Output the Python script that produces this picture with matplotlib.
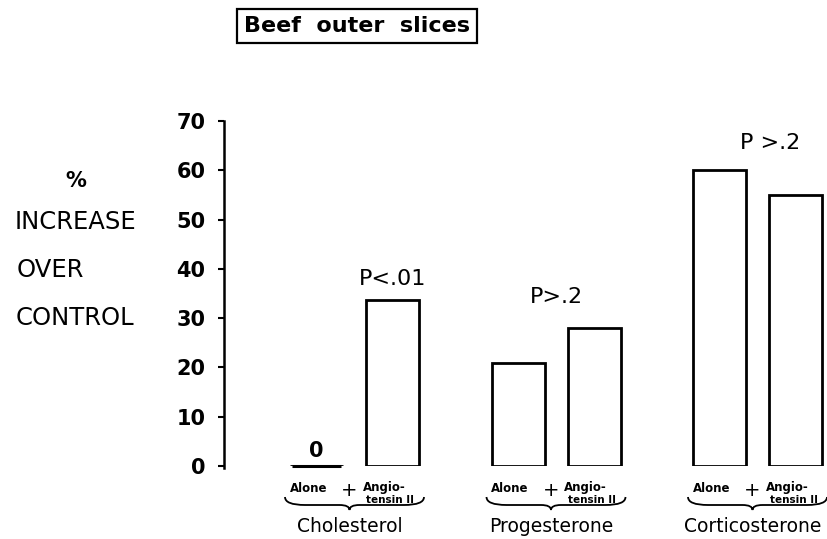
import matplotlib
matplotlib.use("Agg")
import matplotlib.pyplot as plt
from matplotlib.path import Path
from matplotlib.patches import PathPatch
from matplotlib.transforms import blended_transform_factory, IdentityTransform
import numpy as np

groups = ["Cholesterol", "Progesterone", "Corticosterone"]
alone_vals = [0, 21, 60]
angio_vals = [33.7, 28, 55]
p_labels = ["P<.01", "P>.2", "P >.2"]
y_ticks = [0, 10, 20, 30, 40, 50, 60, 70]

W, H = 827, 539
fig = plt.figure(figsize=(W / 100, H / 100), dpi=100)
ax = fig.add_axes([224 / W, (H - 466) / H, 1 - 224 / W, (466 - 121) / H])

group_gap = 2.015
offset = 0.76
bw = 0.53
xa = np.arange(len(groups)) * group_gap
xp = xa + offset

lw = 2.0
ax.bar(xa, alone_vals, width=bw, facecolor="white", edgecolor="black", linewidth=lw)
ax.bar(xp, angio_vals, width=bw, facecolor="white", edgecolor="black", linewidth=lw)
# make zero-height bars visible as a thick baseline segment
for x, v in zip(xa, alone_vals):
    if v == 0:
        ax.hlines(v, x - bw / 2 + 0.02, x + bw / 2 - 0.02, color="black", lw=2.2,
                  clip_on=False)

ax.set_xlim(-0.925, 5.105)
ax.set_ylim(0, 70)
for s in ["top", "right", "bottom"]:
    ax.spines[s].set_visible(False)
ax.spines["left"].set_linewidth(1.8)
ax.spines["left"].set_bounds(-0.4, 70)
ax.set_xticks([])
ax.set_yticks(y_ticks)
ax.set_yticklabels([str(v) for v in y_ticks], fontsize=15, fontweight="bold")
ax.tick_params(axis="y", direction="out", length=4.5, width=1.5, pad=9)

def px(x, y):
    return x / W, 1 - y / H

# zero label
ax.text(xa[0], 1.0, "0", ha="center", va="bottom", fontsize=15, fontweight="bold")

# p-values
p_x = [xp[0], (xa[1] + xp[1]) / 2, (xa[2] + xp[2]) / 2 + 0.13]
p_y = [36.0, 32.3, 63.5]
for x, y, t in zip(p_x, p_y, p_labels):
    ax.text(x, y, t, ha="center", va="bottom", fontsize=16)

trans = blended_transform_factory(ax.transData, IdentityTransform())
for i, g in enumerate(groups):
    ax.text(xa[i] - 0.08, H - 488, "Alone", ha="center", va="center",
            fontsize=8.5, fontweight="bold", transform=trans, clip_on=False)
    ax.text(xp[i] - 0.43, H - 490, "+", ha="center", va="center",
            fontsize=14, transform=trans, clip_on=False)
    ax.text(xp[i] - 0.3, H - 487, "Angio-", ha="left", va="center",
            fontsize=8.5, fontweight="bold", transform=trans, clip_on=False)
    ax.text(xp[i] - 0.02, H - 500, "tensin II", ha="center", va="center",
            fontsize=7.5, fontweight="bold", transform=trans, clip_on=False)
    # brace
    x0 = xa[i] - bw / 2 - 0.05
    x1 = xp[i] + bw / 2 + 0.05
    xm = (x0 + x1) / 2 - 0.05
    yt = H - 497
    yb = H - 505
    yc = H - 510
    verts = [(x0, yt), (x0, yb), (x0 + 0.2, yb), (xm - 0.1, yb), (xm, yb), (xm, yc),
             (xm, yb), (xm + 0.1, yb), (x1 - 0.2, yb), (x1, yb), (x1, yt)]
    codes = [Path.MOVETO, Path.CURVE3, Path.CURVE3, Path.LINETO, Path.CURVE3, Path.CURVE3,
             Path.CURVE3, Path.CURVE3, Path.LINETO, Path.CURVE3, Path.CURVE3]
    pp = PathPatch(Path(verts, codes), facecolor="none", edgecolor="black", lw=1.3,
                   transform=trans, clip_on=False)
    ax.add_patch(pp)
    ax.text(xm, H - 526, g, ha="center", va="center", fontsize=13.5,
            transform=trans, clip_on=False)

# left axis label lines
fig.text(*px(76, 181), "%", ha="center", va="center", fontsize=15, fontweight="bold")
fig.text(*px(15, 222), "INCREASE", ha="left", va="center", fontsize=17.5)
fig.text(*px(17, 270), "OVER", ha="left", va="center", fontsize=17.5)
fig.text(*px(16, 318), "CONTROL", ha="left", va="center", fontsize=17.5)

# title box
fig.text(*px(357, 26), "Beef  outer  slices", ha="center", va="center", fontsize=16,
         fontweight="bold",
         bbox=dict(boxstyle="square,pad=0.3", facecolor="white", edgecolor="black", lw=1.6))

fig.savefig("out.png", dpi=100)
